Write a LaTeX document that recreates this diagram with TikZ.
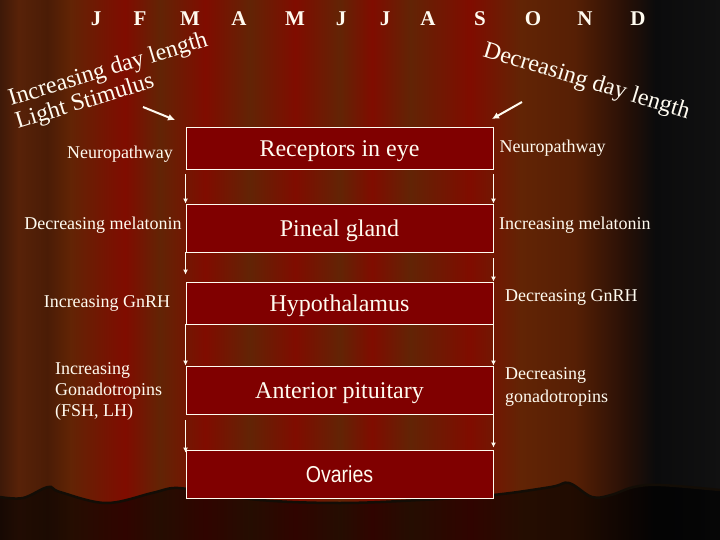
\documentclass[tikz,border=0pt]{standalone}
\usepackage{fontspec}
\setmainfont{Liberation Serif}
\newfontfamily\narrowsans[FakeStretch=0.85]{Liberation Sans}
\usetikzlibrary{arrows.meta}
\definecolor{dka}{RGB}{62,25,8}
\definecolor{dkb}{RGB}{88,34,8}
\definecolor{dkc}{RGB}{74,28,6}
\definecolor{br}{RGB}{98,36,5}
\definecolor{brb}{RGB}{86,31,5}
\definecolor{dkd}{RGB}{40,16,6}
\definecolor{rd}{RGB}{128,12,0}
\definecolor{blk}{RGB}{11,11,12}
\definecolor{blkb}{RGB}{17,17,17}
\definecolor{boxred}{RGB}{128,0,0}
\definecolor{cream}{RGB}{255,251,240}
\begin{document}
\begin{tikzpicture}[x=1pt,y=-1pt,
  boxnode/.style={draw=cream, line width=0.9pt, fill=boxred, minimum width=307pt, inner sep=0pt, text height=17pt, text depth=0pt, text=cream, font=\fontsize{24}{28}\selectfont},
  sidelabel/.style={text=cream, inner sep=0pt, font=\fontsize{18}{21}\selectfont, align=left},
  month/.style={text=cream, inner sep=0pt, anchor=base, font=\bfseries\fontsize{21}{24}\selectfont},
  title/.style={text=cream, inner sep=0pt, anchor=base west, font=\fontsize{24}{28}\selectfont},
  varrow/.style={draw=cream, line width=1.4pt, -{Latex[length=5pt,width=5pt]}},
  darrow/.style={draw=cream, line width=2pt, -{Latex[length=7pt,width=7pt]}}]

\useasboundingbox (0,0) rectangle (720,540);

% curtain stripes
\foreach \xa/\ca/\xb/\cb in {0/dka/18/dkb, 18/dkb/47/dkc, 47/dkc/70/br, 70/br/125/rd, 125/rd/160/br,
  160/br/205/rd, 205/rd/250/br, 250/br/295/rd, 295/rd/340/br, 340/br/372/rd, 372/rd/410/br,
  410/br/470/rd, 470/rd/520/br, 520/br/575/brb, 575/brb/625/dkd, 625/dkd/655/blk, 655/blk/720/blkb}
  { \shade[left color=\ca, right color=\cb] (\xa,0) rectangle ({\xb+0.6},540); }

% bottom hem of the curtain
\fill[black, opacity=0.62] plot[smooth, tension=0.6] coordinates {(0,497) (23,498) (48,487) (60,492) (106,503) (152,493) (174,488) (200,491) (260,500) (340,503) (420,500) (493,495) (551,487) (569,483) (592,497) (611,495) (634,487) (661,485) (720,490)} -- (720,540) -- (0,540) -- cycle;
\draw[black!90!brown, line width=2.5pt] plot[smooth, tension=0.6] coordinates {(0,497) (23,498) (48,487) (60,492) (106,503) (152,493) (174,488) (200,491) (260,500) (340,503) (420,500) (493,495) (551,487) (569,483) (592,497) (611,495) (634,487) (661,485) (720,490)};

% months
\foreach \m/\x [count=\i] in {J/96,F/140,M/190,A/239,M/295,J/341,J/385,A/428,S/480,O/533,N/585,D/638}
  { \node[month] (m\i) at (\x,26) {\m}; }

% titles
\node[title, rotate=17] (inc) at (11,106) {Increasing day length};
\node[title, rotate=17] (lig) at (18,129) {Light Stimulus};
\node[title, rotate=-17] (dec) at (482,56) {Decreasing day length};

% boxes
\node[boxnode, minimum height=42pt] (r1) at (339.5,148) {Receptors in eye};
\node[boxnode, minimum height=48pt] (r2) at (339.5,228) {Pineal gland};
\node[boxnode, minimum height=42pt] (r3) at (339.5,303) {Hypothalamus};
\node[boxnode, minimum height=48pt] (r4) at (339.5,390) {Anterior pituitary};
\node[boxnode, minimum height=48pt, font=\narrowsans\fontsize{23}{27}\selectfont] (r5) at (339.5,474) {Ovaries};

% diagonal arrows
\coordinate (la) at (143,107); \coordinate (lb) at (175,120);
\draw[darrow] (la) -- (lb);
\coordinate (ra) at (522,102); \coordinate (rb) at (492,119);
\draw[darrow] (ra) -- (rb);

% vertical arrows, left
\draw[varrow] ([yshift=-5pt]r1.south west) -- (r2.north west);
\draw[varrow] (r2.south west) -- ([yshift=7pt]r3.north west);
\draw[varrow] (r3.south west) -- (r4.north west);
\draw[varrow] ([yshift=-6pt]r4.south west) -- ([yshift=-3pt]r5.north west);
% vertical arrows, right
\draw[varrow] ([yshift=-5pt]r1.south east) -- (r2.north east);
\draw[varrow] ([yshift=-6pt]r2.south east) -- (r3.north east);
\draw[varrow] (r3.south east) -- (r4.north east);
\draw[varrow] (r4.south east) -- ([yshift=2pt]r5.north east);

% side labels
\node[sidelabel] (ln1) at (120,154) {Neuropathway};
\node[sidelabel] (ln2) at (103,225) {Decreasing melatonin};
\node[sidelabel] (ln3) at (107,303) {Increasing GnRH};
\node[sidelabel, anchor=west] (ln4) at (55,391) {Increasing\\Gonadotropins\\(FSH, LH)};
\node[sidelabel, anchor=west] (rn1) at (499.5,148) {Neuropathway};
\node[sidelabel, anchor=west] (rn2) at (499,225.5) {Increasing melatonin};
\node[sidelabel, anchor=west] (rn3) at (505,297) {Decreasing GnRH};
\node[sidelabel, anchor=west, font=\fontsize{18}{23}\selectfont] (rn4) at (505,386.5) {Decreasing\\gonadotropins};
\end{tikzpicture}
\end{document}
